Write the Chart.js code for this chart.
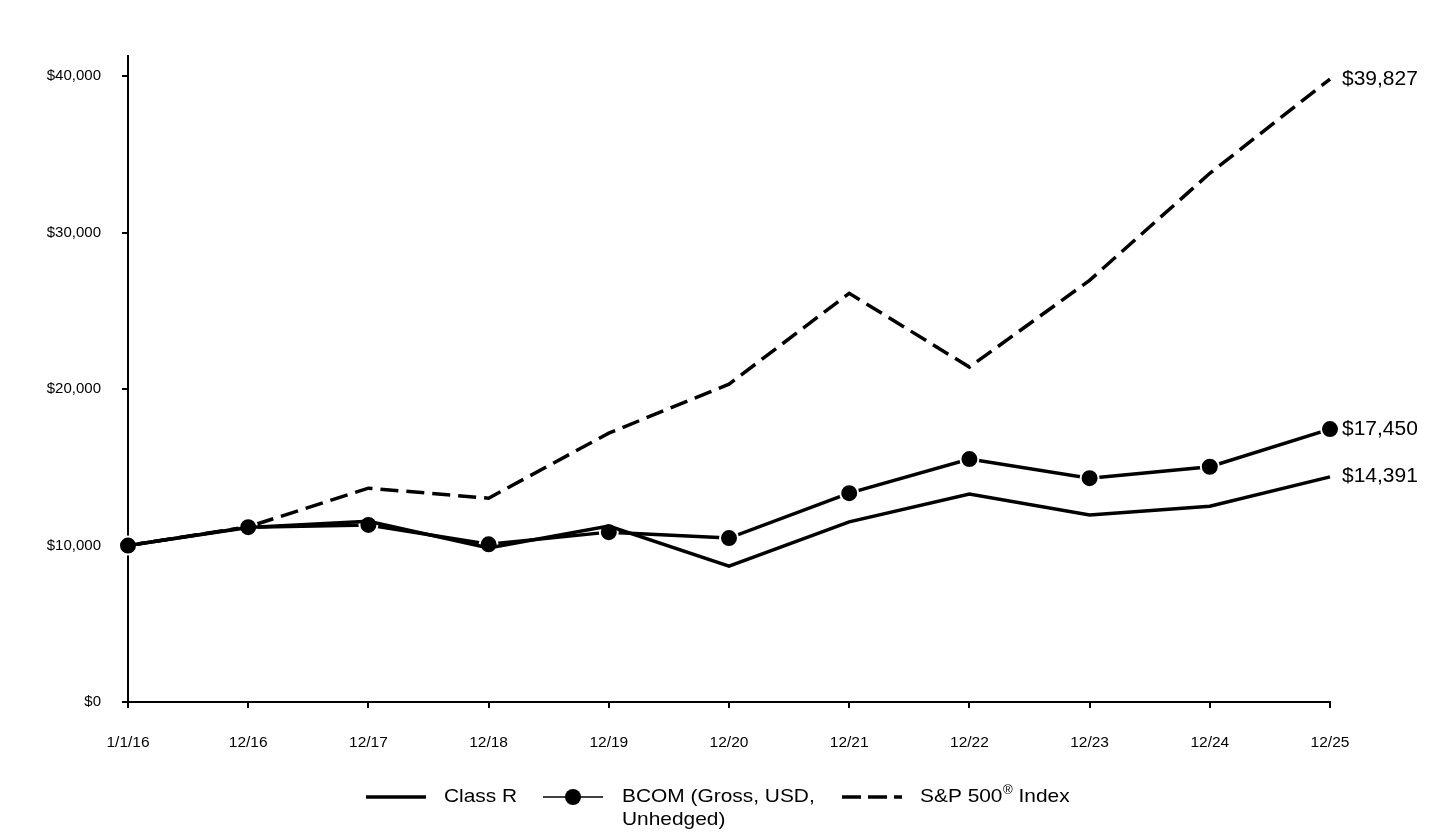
<!DOCTYPE html>
<html>
<head>
<meta charset="utf-8">
<script src="https://cdn.jsdelivr.net/npm/chart.js@4"></script>
<style>
html,body{margin:0;padding:0;background:#fff;}
#wrap{width:1440px;height:840px;position:relative;}
</style>
</head>
<body>
<div id="wrap"><canvas id="c" width="1440" height="840"></canvas></div>
<script>
const categories = ["1/1/16","12/16","12/17","12/18","12/19","12/20","12/21","12/22","12/23","12/24","12/25"];
const classR = [10000, 11150, 11550, 9850, 11250, 8690, 11520, 13290, 11950, 12520, 14391];
const bcom   = [10000, 11180, 11320, 10080, 10860, 10480, 13350, 15530, 14310, 15040, 17450];
const sp500  = [10000, 11200, 13670, 13030, 17190, 20320, 26130, 21410, 26960, 33800, 39827];
const yTicks = [0, 10000, 20000, 30000, 40000];
const endLabels = ["$14,391", "$17,450", "$39,827"];
const seriesNames = ["Class R", "BCOM (Gross, USD, Unhedged)", "S&P 500® Index"];

const FONT = "Arial, 'Liberation Sans', sans-serif";

function stretchedText(ctx, text, x, y, sx) {
  ctx.save();
  ctx.translate(x, y);
  ctx.scale(sx, 1);
  ctx.fillText(text, 0, 0);
  const w = ctx.measureText(text).width * sx;
  ctx.restore();
  return w;
}

const endLabelPlugin = {
  id: 'endLabels',
  afterDatasetsDraw(chart) {
    const ctx = chart.ctx;
    ctx.save();
    ctx.font = "20px " + FONT;
    ctx.fillStyle = "#000";
    ctx.textAlign = "left";
    ctx.textBaseline = "middle";
    chart.data.datasets.forEach((ds, i) => {
      const meta = chart.getDatasetMeta(i);
      const pt = meta.data[meta.data.length - 1];
      stretchedText(ctx, endLabels[i], pt.x + 12, pt.y, 1.05);
    });
    ctx.restore();
  }
};

const legendPlugin = {
  id: 'customLegend',
  afterDraw(chart) {
    const ctx = chart.ctx;
    const y = 797;
    const sx = 1.1;
    ctx.save();
    ctx.strokeStyle = "#000";
    ctx.fillStyle = "#000";
    ctx.font = "19px " + FONT;
    ctx.textBaseline = "middle";
    ctx.textAlign = "left";
    // Class R
    ctx.lineWidth = 3.5;
    ctx.beginPath(); ctx.moveTo(366, y); ctx.lineTo(426, y); ctx.stroke();
    stretchedText(ctx, seriesNames[0], 444, y, sx);
    // BCOM
    ctx.lineWidth = 1.5;
    ctx.beginPath(); ctx.moveTo(543, y); ctx.lineTo(603, y); ctx.stroke();
    ctx.beginPath(); ctx.arc(573, y, 8, 0, Math.PI * 2); ctx.fill();
    stretchedText(ctx, "BCOM (Gross, USD,", 622, y, sx);
    stretchedText(ctx, "Unhedged)", 622, y + 23, sx);
    // S&P
    ctx.lineWidth = 3.5;
    ctx.setLineDash([19, 7]);
    ctx.beginPath(); ctx.moveTo(842, y); ctx.lineTo(902, y); ctx.stroke();
    ctx.setLineDash([]);
    let x = 920;
    x += stretchedText(ctx, "S&P 500", x, y, sx);
    ctx.font = "12px " + FONT;
    x += stretchedText(ctx, "®", x + 0.5, y - 6, sx) + 0.5;
    ctx.font = "19px " + FONT;
    stretchedText(ctx, " Index", x, y, sx);
    ctx.restore();
  }
};

new Chart(document.getElementById('c'), {
  type: 'line',
  data: {
    labels: categories,
    datasets: [
      {
        label: seriesNames[0],
        data: classR,
        borderColor: "#000",
        borderWidth: 3.5,
        pointRadius: 0,
        tension: 0,
        clip: false
      },
      {
        label: seriesNames[1],
        data: bcom,
        borderColor: "#000",
        backgroundColor: "#000",
        borderWidth: 3.5,
        pointRadius: 9,
        pointBackgroundColor: "#000",
        pointBorderColor: "#fff",
        pointBorderWidth: 2,
        tension: 0,
        clip: false
      },
      {
        label: seriesNames[2],
        data: sp500,
        borderColor: "#000",
        borderWidth: 3.5,
        borderDash: [18, 8],
        pointRadius: 0,
        tension: 0,
        clip: false
      }
    ]
  },
  plugins: [endLabelPlugin, legendPlugin],
  options: {
    responsive: false,
    animation: false,
    devicePixelRatio: 1,
    layout: { padding: { top: 56, right: 110, left: 0, bottom: 0 } },
    plugins: { legend: { display: false }, tooltip: { enabled: false } },
    scales: {
      x: {
        type: 'category',
        offset: false,
        afterFit(scale) { scale.height = 138; },
        grid: { display: true, drawOnChartArea: false, drawTicks: true, tickLength: 6, color: "#000", lineWidth: 2 },
        border: { display: true, color: "#000", width: 2 },
        ticks: { color: "#000", font: { family: FONT, size: 15.5 }, padding: 25, maxRotation: 0, autoSkip: false }
      },
      y: {
        min: 0,
        max: 41300,
        afterFit(scale) { scale.width = 128; },
        afterBuildTicks(scale) { scale.ticks = yTicks.map(v => ({ value: v })); },
        grid: { display: true, drawOnChartArea: false, drawTicks: true, tickLength: 6, color: "#000", lineWidth: 2 },
        border: { display: true, color: "#000", width: 2 },
        ticks: {
          color: "#000",
          font: { family: FONT, size: 15 },
          padding: 21,
          callback: v => "$" + v.toLocaleString("en-US")
        }
      }
    }
  }
});
</script>
</body>
</html>
